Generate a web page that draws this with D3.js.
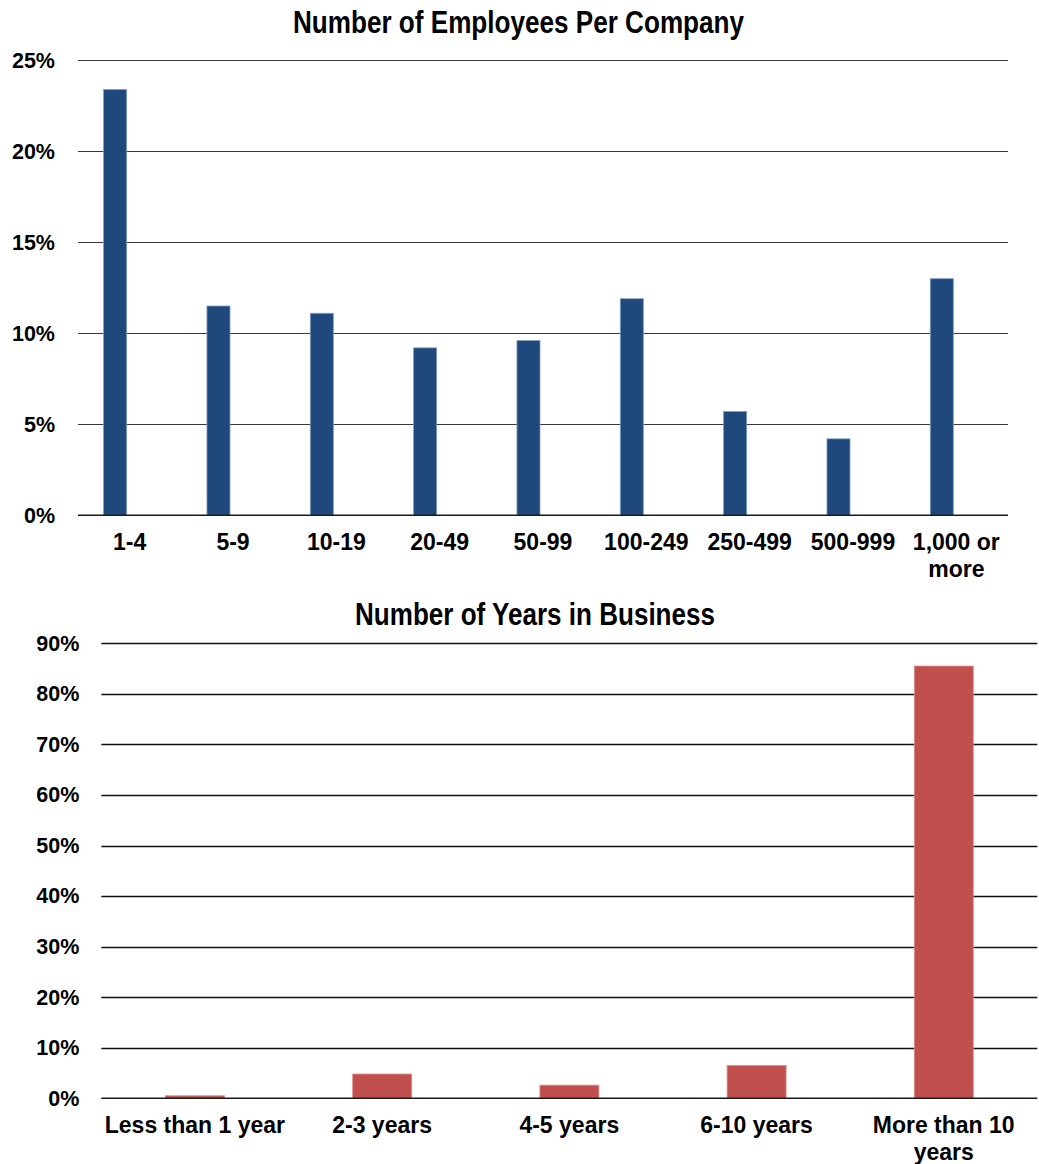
<!DOCTYPE html>
<html>
<head>
<meta charset="utf-8">
<script src="https://cdn.jsdelivr.net/npm/d3@7"></script>
<style>
  html, body { margin: 0; padding: 0; background: #fff; }
  svg { display: block; }
  text { font-family: "Liberation Sans", Arial, sans-serif; font-weight: bold; fill: #000; }
  .title { font-family: "Liberation Sans Narrow", "Arial Narrow", "Liberation Sans", sans-serif; }
</style>
</head>
<body>
<script>
// Company size distribution
const employeeCategories = ["1-4", "5-9", "10-19", "20-49", "50-99", "100-249", "250-499", "500-999", "1,000 or more"];
const employeeShares = [23.4, 11.5, 11.1, 9.2, 9.6, 11.9, 5.7, 4.2, 13.0];
const employeeTicks = [0, 5, 10, 15, 20, 25];

// Years in business distribution
const yearCategories = ["Less than 1 year", "2-3 years", "4-5 years", "6-10 years", "More than 10 years"];
const yearShares = [0.5, 4.8, 2.6, 6.5, 85.5];
const yearTicks = [0, 10, 20, 30, 40, 50, 60, 70, 80, 90];

const W = 1039, H = 1164;
const svg = d3.select("body").append("svg").attr("width", W).attr("height", H);

// Break a label into lines that fit a given width
function wrapLines(textSel, width) {
  textSel.each(function () {
    const t = d3.select(this);
    const words = t.text().split(/\s+/);
    const x = t.attr("x");
    t.text(null);
    let line = [];
    let tspan = t.append("tspan").attr("x", x).attr("dy", 0);
    let lineNo = 0;
    words.forEach(w => {
      line.push(w);
      tspan.text(line.join(" "));
      if (tspan.node().getComputedTextLength() > width && line.length > 1) {
        line.pop();
        tspan.text(line.join(" "));
        line = [w];
        lineNo++;
        tspan = t.append("tspan").attr("x", x).attr("dy", "26.5px").text(w);
      }
    });
  });
}

function drawChart(opts) {
  const g = svg.append("g");
  const x = d3.scaleBand().domain(opts.categories).range([opts.left, opts.right]).padding(0);
  const y = d3.scaleLinear().domain([0, opts.max]).range([opts.bottom, opts.top]);
  const bw = x.bandwidth();

  // Title
  g.append("text").attr("class", "title")
    .attr("x", opts.titleX).attr("y", opts.titleY)
    .attr("text-anchor", "middle")
    .style("font-size", opts.titleSize + "px")
    .attr("textLength", opts.titleLen).attr("lengthAdjust", "spacingAndGlyphs")
    .text(opts.title);

  // Horizontal gridlines
  g.selectAll("line.grid").data(opts.ticks.filter(v => v > 0)).enter().append("line")
    .attr("x1", opts.left).attr("x2", opts.right)
    .attr("y1", d => Math.round(y(d)) + 0.5).attr("y2", d => Math.round(y(d)) + 0.5)
    .attr("stroke", opts.gridColor).attr("stroke-width", opts.gridWidth);

  // Y tick labels
  const yAxis = d3.axisLeft(y).tickValues(opts.ticks).tickFormat(d => d + "%").tickSize(0).tickPadding(opts.tickPad);
  const ya = g.append("g").attr("transform", `translate(${opts.left},0)`).call(yAxis);
  ya.select(".domain").remove();
  ya.selectAll("text").style("font-size", "21.5px").style("font-family", '"Liberation Sans", Arial, sans-serif').style("font-weight", "bold").attr("fill", "#000");

  // Bars
  g.selectAll("rect.bar").data(opts.values).enter().append("rect")
    .attr("x", (d, i) => x(opts.categories[i]) + bw * opts.barStart)
    .attr("width", bw * opts.barWidth)
    .attr("y", d => y(d))
    .attr("height", d => y(0) - y(d))
    .attr("fill", opts.color)
    .attr("stroke", opts.edge).attr("stroke-width", 0.8);

  // Baseline
  g.append("line")
    .attr("x1", opts.left).attr("x2", opts.right)
    .attr("y1", y(0)).attr("y2", y(0))
    .attr("stroke", "#1a1a1a").attr("stroke-width", 1.6);

  // Category labels
  const xl = g.selectAll("text.cat").data(opts.categories).enter().append("text")
    .attr("class", "cat")
    .attr("x", d => x(d) + bw / 2)
    .attr("y", y(0) + 35)
    .attr("text-anchor", "middle")
    .style("font-size", "23px")
    .text(d => d);
  wrapLines(xl, bw - 4);
}

drawChart({
  title: "Number of Employees Per Company", titleX: 518.5, titleY: 33, titleSize: 31, titleLen: 451,
  categories: employeeCategories, values: employeeShares, ticks: employeeTicks, max: 25,
  left: 78, right: 1008, top: 60.3, bottom: 515.3, tickPad: 23,
  barStart: 0.248, barWidth: 0.223, color: "#1F497D", edge: "#7f9cc2",
  gridColor: "#3a3a3a", gridWidth: 1
});

drawChart({
  title: "Number of Years in Business", titleX: 535, titleY: 625, titleSize: 31, titleLen: 360,
  categories: yearCategories, values: yearShares, ticks: yearTicks, max: 90,
  left: 101.3, right: 1037.3, top: 643.3, bottom: 1098.3, tickPad: 22,
  barStart: 0.343, barWidth: 0.315, color: "#C0504D", edge: "#dc8a88",
  gridColor: "#111", gridWidth: 1.4
});
</script>
</body>
</html>
